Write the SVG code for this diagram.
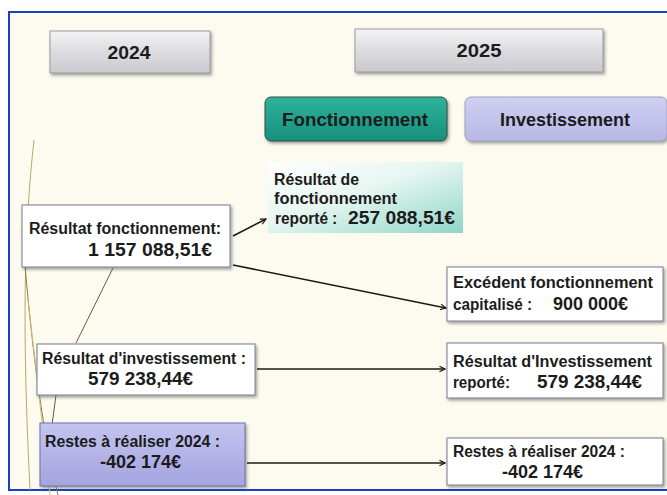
<svg xmlns="http://www.w3.org/2000/svg" width="667" height="495" viewBox="0 0 667 495">
<defs>
<style>
.t{font-family:"Liberation Sans",Arial,sans-serif;fill:#1c1c1c;font-size:16px;}
.b{font-weight:bold;}
.n{font-weight:bold;font-size:18px;}
.h{font-weight:bold;font-size:19px;}
.box{fill:#ffffff;stroke:#8a8fa0;stroke-width:1.2;}
.con{stroke:#1a1a1a;stroke-width:1.6;fill:none;marker-end:url(#ah);}
.deco{fill:none;stroke-width:1;}
</style>
<marker id="ah" viewBox="0 0 10 10" refX="9" refY="5" markerWidth="7" markerHeight="7" orient="auto" markerUnits="userSpaceOnUse">
<path d="M1,1 L9,5 L1,9" fill="none" stroke="#1a1a1a" stroke-width="1.6"/>
</marker>
<linearGradient id="gray" x1="0" y1="0" x2="0" y2="1">
<stop offset="0" stop-color="#f4f4f6"/><stop offset="0.5" stop-color="#dcdce0"/><stop offset="1" stop-color="#c9c9ce"/>
</linearGradient>
<linearGradient id="teal" x1="0" y1="0" x2="0" y2="1">
<stop offset="0" stop-color="#2fb39c"/><stop offset="1" stop-color="#17907d"/>
</linearGradient>
<linearGradient id="lav" x1="0" y1="0" x2="0" y2="1">
<stop offset="0" stop-color="#d0d0f2"/><stop offset="1" stop-color="#b8b8e6"/>
</linearGradient>
<linearGradient id="lav2" x1="0" y1="0" x2="0" y2="1">
<stop offset="0" stop-color="#c4c4f0"/><stop offset="1" stop-color="#a4a4e0"/>
</linearGradient>
<linearGradient id="mint" x1="0" y1="0" x2="1" y2="1">
<stop offset="0" stop-color="#ffffff"/><stop offset="0.45" stop-color="#e6f6f1"/><stop offset="1" stop-color="#8fd6c6"/>
</linearGradient>
<filter id="sh" x="-10%" y="-20%" width="125%" height="150%">
<feDropShadow dx="1.5" dy="2" stdDeviation="1.5" flood-color="#555" flood-opacity="0.55"/>
</filter>
</defs>

<rect x="0" y="0" width="667" height="495" fill="#ffffff"/>
<rect x="9" y="12" width="664" height="478" fill="#fdfbef" stroke="#1a3fbf" stroke-width="2"/>

<g id="decoration">
<path class="deco" d="M34,140 C24,230 22,330 30,490" stroke="#b9a860"/>
<path class="deco" d="M22,230 C30,330 40,420 58,495" stroke="#8a7a50"/>
<path class="deco" d="M28,300 C36,370 42,420 50,495" stroke="#c9c070"/>
<path class="deco" d="M113,268 L76,343" stroke="#6b5a40"/>
<path class="deco" d="M56,395 L52,425" stroke="#6b5a40"/>
</g>

<g id="n2024">
<rect x="50" y="31" width="160" height="42" fill="url(#gray)" stroke="#9a9aa0" stroke-width="1" filter="url(#sh)"/>
<text class="t h" x="129" y="59" text-anchor="middle" textLength="43" lengthAdjust="spacingAndGlyphs">2024</text>
</g>
<g id="n2025">
<rect x="355" y="29" width="248" height="43" fill="url(#gray)" stroke="#9a9aa0" stroke-width="1" filter="url(#sh)"/>
<text class="t h" x="479" y="57" text-anchor="middle" textLength="45" lengthAdjust="spacingAndGlyphs">2025</text>
</g>
<g id="fonctionnement">
<rect x="265" y="97" width="182" height="44" rx="6" fill="url(#teal)" stroke="#3a4a46" stroke-width="1" filter="url(#sh)"/>
<text class="t h" x="355" y="126" text-anchor="middle" textLength="146" lengthAdjust="spacingAndGlyphs">Fonctionnement</text>
</g>
<g id="investissement">
<rect x="465" y="97" width="202" height="44" rx="6" fill="url(#lav)" stroke="#a0a0c8" stroke-width="1" filter="url(#sh)"/>
<text class="t h" x="565" y="126" text-anchor="middle" textLength="130" lengthAdjust="spacingAndGlyphs">Investissement</text>
</g>

<g id="res-fonct-reporte">
<rect x="268" y="162" width="195" height="71" fill="url(#mint)" stroke="none"/>
<text class="t b" x="274" y="185" textLength="85" lengthAdjust="spacingAndGlyphs">Résultat de</text>
<text class="t b" x="274" y="204" textLength="123" lengthAdjust="spacingAndGlyphs">fonctionnement</text>
<text class="t b" x="275" y="224" textLength="53" lengthAdjust="spacingAndGlyphs">reporté</text>
<text class="t b" x="332" y="224">:</text>
<text class="t n" x="348" y="224" textLength="107" lengthAdjust="spacingAndGlyphs">257 088,51€</text>
</g>

<g id="res-fonct">
<rect class="box" x="22" y="205" width="208" height="62" filter="url(#sh)"/>
<text class="t b" x="29" y="234" textLength="192" lengthAdjust="spacingAndGlyphs">Résultat fonctionnement:</text>
<text class="t n" x="88" y="256" textLength="124" lengthAdjust="spacingAndGlyphs">1 157 088,51€</text>
</g>

<g id="excedent">
<rect class="box" x="447" y="267" width="216" height="54" filter="url(#sh)"/>
<text class="t b" x="453" y="288" textLength="200" lengthAdjust="spacingAndGlyphs">Excédent fonctionnement</text>
<text class="t b" x="453" y="310" textLength="79" lengthAdjust="spacingAndGlyphs">capitalisé :</text>
<text class="t n" x="553" y="310">900 000€</text>
</g>

<g id="res-invest">
<rect class="box" x="37" y="344" width="218" height="51" filter="url(#sh)"/>
<text class="t b" x="42" y="364" textLength="204" lengthAdjust="spacingAndGlyphs">Résultat d'investissement :</text>
<text class="t n" x="88" y="385" textLength="105" lengthAdjust="spacingAndGlyphs">579 238,44€</text>
</g>

<g id="res-invest-reporte">
<rect class="box" x="447" y="343" width="216" height="55" filter="url(#sh)"/>
<text class="t b" x="453" y="367" textLength="199" lengthAdjust="spacingAndGlyphs">Résultat d'Investissement</text>
<text class="t b" x="453" y="388" textLength="57" lengthAdjust="spacingAndGlyphs">reporté:</text>
<text class="t n" x="537" y="388" textLength="105" lengthAdjust="spacingAndGlyphs">579 238,44€</text>
</g>

<g id="restes-2024">
<rect x="40" y="423" width="205" height="63" fill="url(#lav2)" stroke="#7070a8" stroke-width="1" filter="url(#sh)"/>
<text class="t b" x="45" y="447" textLength="175" lengthAdjust="spacingAndGlyphs">Restes à réaliser 2024 :</text>
<text class="t n" x="100" y="468">-402 174€</text>
</g>

<g id="restes-2025">
<rect class="box" x="447" y="438" width="216" height="47" filter="url(#sh)"/>
<text class="t b" x="453" y="457" textLength="172" lengthAdjust="spacingAndGlyphs">Restes à réaliser 2024 :</text>
<text class="t n" x="502" y="478">-402 174€</text>
</g>

<g id="connectors">
<line class="con" x1="233" y1="236" x2="266" y2="219"/>
<line class="con" x1="233" y1="265" x2="446" y2="308"/>
<line class="con" x1="257" y1="369" x2="445" y2="369"/>
<line class="con" x1="247" y1="463" x2="445" y2="463"/>
</g>
</svg>
